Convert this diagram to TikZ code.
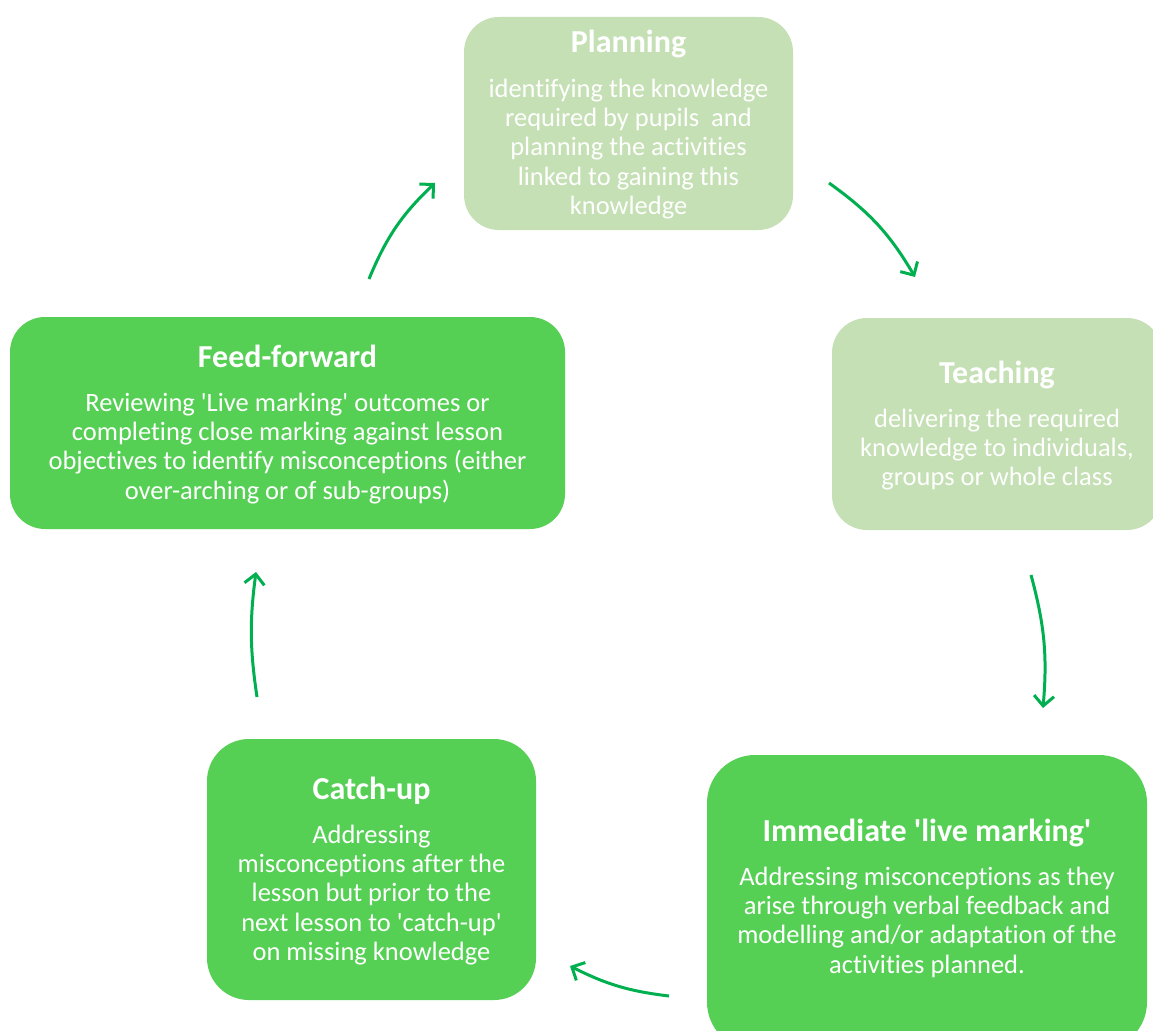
\documentclass[tikz,border=0pt]{standalone}
\usepackage{fontspec}
\setmainfont{Carlito}[Ligatures={NoCommon}]
\usetikzlibrary{arrows.meta}
\definecolor{paleGreen}{HTML}{C5E0B4}
\definecolor{brightGreen}{HTML}{55D055}
\definecolor{arrowGreen}{HTML}{00B050}
\newcommand{\sq}{\textquotesingle}
\tikzset{
  card/.style={rounded corners=#1, inner sep=0pt},
  palecard/.style={card=#1, fill=paleGreen},
  brightcard/.style={card=#1, fill=brightGreen},
  heading/.style={anchor=base, text=white, inner sep=0pt,
    font=\fontsize{32}{37}\selectfont\bfseries},
  bodytext/.style={anchor=north, text=white, inner sep=0pt, align=center,
    font=\fontsize{26.5}{29.3}\selectfont},
  cyclearrow/.style={draw=arrowGreen, line width=3pt,
    -{Straight Barb[length=10pt,width=20pt,line width=3pt]}, bend left=#1},
}
\begin{document}
\begin{tikzpicture}[x=1pt,y=-1pt]
\path[use as bounding box, clip] (0,0) rectangle (1153,1030);
\fill[white] (0,0) rectangle (1153,1030);

% boxes
\node[palecard=35pt, minimum width=329pt, minimum height=213pt] (plan) at (628.5,123.5) {};
\node[palecard=35pt, minimum width=330pt, minimum height=212pt] (teach) at (997,424) {};
\node[brightcard=35pt, minimum width=555pt, minimum height=212pt] (ff) at (287.5,423) {};
\node[brightcard=42pt, minimum width=329pt, minimum height=261pt] (catch) at (371.5,869.5) {};
\node[brightcard=48pt, minimum width=440pt, minimum height=295pt] (live) at (927,902.5) {};

% texts
\node[heading] (plan-t) at (628.5,53) {Planning};
\node[bodytext] (plan-b) at (628.5,76.5) {\strut identifying the knowledge\\required by pupils\ \ and\\planning the activities\\linked to gaining this\\knowledge};

\node[heading] (teach-t) at (997,383) {Teaching};
\node[bodytext] (teach-b) at (997,406.5) {\strut delivering the required\\knowledge to individuals,\\groups or whole class};

\node[heading] (ff-t) at (287.5,367) {Feed-forward};
\node[bodytext] (ff-b) at (287.5,390.5) {\strut Reviewing \sq Live marking\sq{} outcomes or\\completing close marking against lesson\\objectives to identify misconceptions (either\\over-arching or of sub-groups)};

\node[heading] (catch-t) at (371.5,799) {Catch-up};
\node[bodytext] (catch-b) at (371.5,822.5) {\strut Addressing\\misconceptions after the\\lesson but prior to the\\next lesson to \sq catch-up\sq\\on missing knowledge};

\node[heading] (live-t) at (927,841) {Immediate \sq live marking\sq};
\node[bodytext] (live-b) at (927,864.5) {\strut Addressing misconceptions as they\\arise through verbal feedback and\\modelling and/or adaptation of the\\activities planned.};

% cycle arrows
\coordinate (a1s) at (369,279);  \coordinate (a1e) at (435,183);
\coordinate (a2s) at (829,183);  \coordinate (a2e) at (915,277);
\coordinate (a3s) at (1031,575); \coordinate (a3e) at (1043,708);
\coordinate (a4s) at (669,996);  \coordinate (a4e) at (570,966);
\coordinate (a5s) at (257,697);  \coordinate (a5e) at (256,572);
\draw[cyclearrow=12] (a1s) to (a1e);
\draw[cyclearrow=12] (a2s) to (a2e);
\draw[cyclearrow=10] (a3s) to (a3e);
\draw[cyclearrow=10] (a4s) to (a4e);
\draw[cyclearrow=8] (a5s) to (a5e);
\end{tikzpicture}
\end{document}
